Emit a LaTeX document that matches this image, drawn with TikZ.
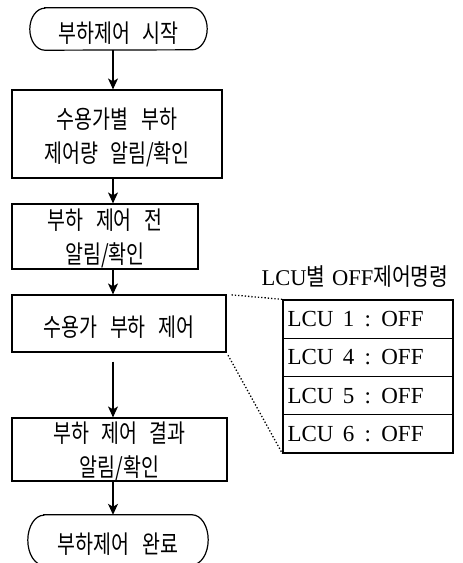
\documentclass[tikz,border=0pt]{standalone}
\usepackage{fontspec}
\setmainfont{Liberation Serif}
\newfontfamily\kr[FakeStretch=0.78]{Noto Sans CJK KR}
\newfontfamily\krt[FakeStretch=0.85]{Noto Sans CJK KR}
\newcommand\ksp{\hspace{0.5em}}
\usetikzlibrary{arrows.meta}
\begin{document}
\begin{tikzpicture}[x=1pt,y=1pt,
  box/.style={draw,line width=1.2pt,rectangle,inner sep=0pt},
  btxt/.style={align=center,inner sep=0pt,font=\kr\fontsize{25}{34}\selectfont},
  term/.style={inner sep=0pt},
  arr/.style={line width=1.2pt,-{Stealth[length=11pt,width=10pt,inset=3pt]}},
  cell/.style={draw,line width=1.2pt,rectangle,minimum width=170pt,minimum height=38.25pt,
    inner sep=0pt},
  celltxt/.style={anchor=west,inner sep=0pt,font=\fontsize{23}{26}\selectfont},
  dots/.style={line width=1.3pt,dotted}]
\useasboundingbox (0,0) rectangle (463,-563);
% terminals
\node[term,minimum width=177pt,minimum height=42pt] (s) at (118.5,-29) {};
\node[btxt] (stxt) at (118.5,-33) {부하제어\ksp 시작};
\draw[line width=1.2pt] ([xshift=15pt]s.north west) -- ([xshift=-15pt]s.north east)
  arc[start angle=90,end angle=-90,x radius=15pt,y radius=21pt]
  -- ([xshift=15pt]s.south west)
  arc[start angle=270,end angle=90,x radius=15pt,y radius=21pt] -- cycle;
\node[term,minimum width=180pt,minimum height=50pt] (e) at (118,-540) {};
\node[btxt] (etxt) at (118,-544) {부하제어\ksp 완료};
\draw[line width=1.2pt] ([xshift=16pt]e.north west) -- ([xshift=-16pt]e.north east)
  arc[start angle=90,end angle=-90,x radius=16pt,y radius=25pt]
  -- ([xshift=16pt]e.south west)
  arc[start angle=270,end angle=90,x radius=16pt,y radius=25pt] -- cycle;
% process boxes
\node[box,minimum width=210pt,minimum height=88pt] (b1) at (117,-134) {};
\node[box,minimum width=186pt,minimum height=65pt] (b2) at (105,-236.5) {};
\node[box,minimum width=214pt,minimum height=57pt] (b3) at (119,-323.5) {};
\node[box,minimum width=215pt,minimum height=63pt] (b4) at (119.5,-449.5) {};
\node[btxt] (b1t) at ([yshift=-3pt]b1.center) {수용가별\ksp 부하\\제어량\ksp 알림/확인};
\node[btxt] (b2t) at ([yshift=-1.5pt]b2.center) {부하\ksp 제어\ksp 전\\알림/확인};
\node[btxt] (b3t) at ([yshift=-4pt]b3.center) {수용가\ksp 부하\ksp 제어};
\node[btxt] (b4t) at ([yshift=-1.5pt]b4.center) {부하\ksp 제어\ksp 결과\\알림/확인};
% arrows
\coordinate (ax) at (113,0);
\draw[arr] (s.south -| ax) -- (b1.north -| ax);
\draw[arr] (b1.south -| ax) -- (b2.north -| ax);
\draw[arr] (b2.south -| ax) -- (b3.north -| ax);
\draw[arr,shorten <=9pt] (b3.south -| ax) -- (b4.north -| ax);
\draw[arr] (b4.south -| ax) -- (e.north -| ax);
% table
\node[font=\fontsize{22.5}{26}\selectfont] (title) at (355,-277) {LCU{\krt\fontsize{24}{26}\selectfont 별}\hspace{0.3em}OFF{\krt\fontsize{24}{26}\selectfont 제어명령}};
\node[cell] (r1) at (368,-319.1) {};
\node[cell] (r2) at (368,-357.4) {};
\node[cell] (r3) at (368,-395.6) {};
\node[cell] (r4) at (368,-433.9) {};
\foreach \r/\n in {r1/1,r2/4,r3/5,r4/6}
  \node[celltxt] (t\r) at ([xshift=5pt]\r.west) {LCU\hspace{0.4em}\n\hspace{0.45em}:\hspace{0.45em}OFF};
% dotted leaders
\draw[dots,shorten <=5pt] (b3.north east) -- (r1.north west);
\draw[dots,shorten <=3pt] (b3.south east) -- (r4.south west);
\end{tikzpicture}
\end{document}
